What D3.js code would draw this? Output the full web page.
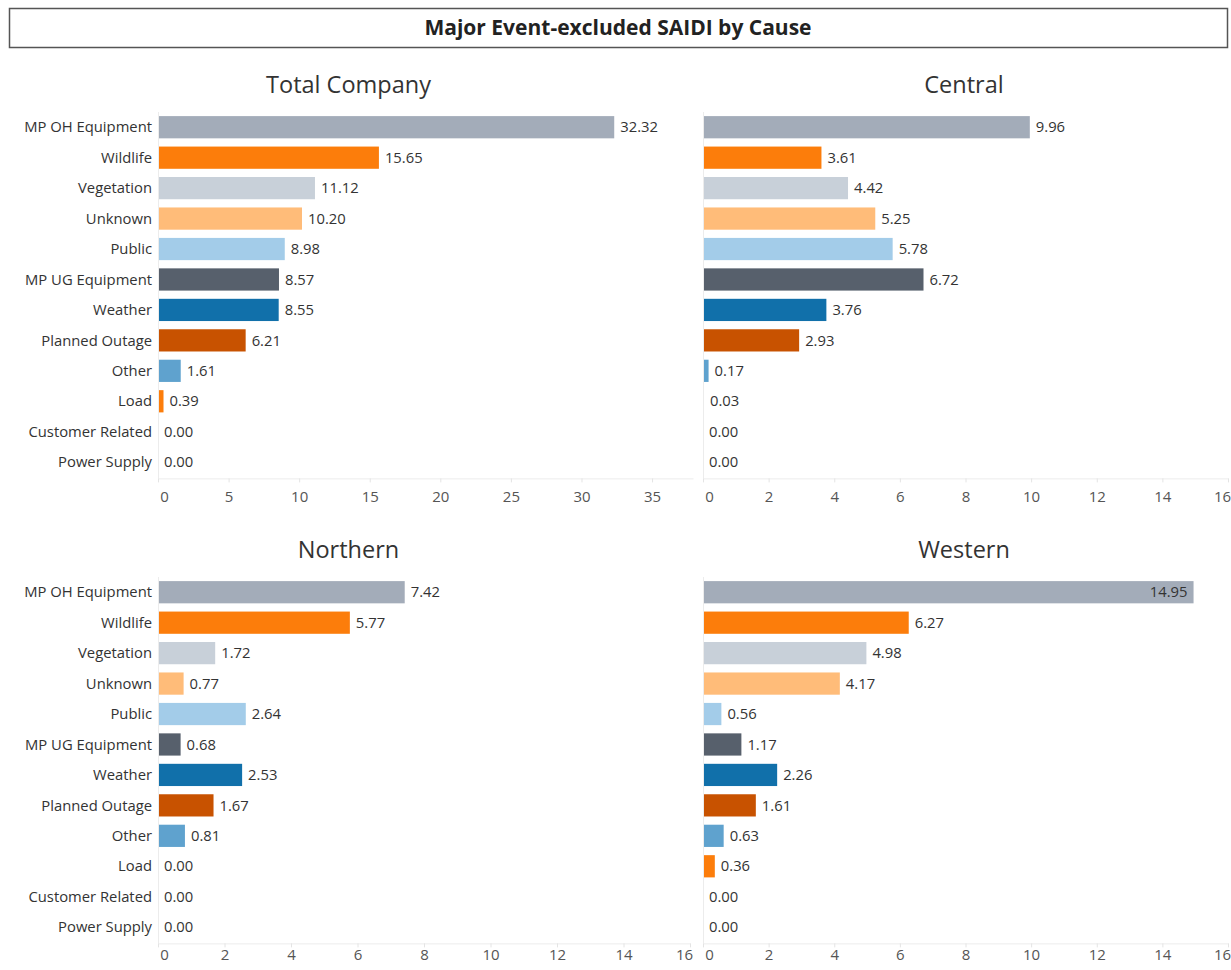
<!DOCTYPE html>
<html>
<head>
<meta charset="utf-8">
<script src="https://cdn.jsdelivr.net/npm/d3@7"></script>
<style>
  html, body { margin: 0; padding: 0; background: #fff; }
  svg { display: block; }
</style>
</head>
<body>
<svg id="chart" width="1231" height="970"></svg>
<script>
// Outage causes, in display order
const causes = ["MP OH Equipment", "Wildlife", "Vegetation", "Unknown", "Public",
  "MP UG Equipment", "Weather", "Planned Outage", "Other", "Load",
  "Customer Related", "Power Supply"];

// SAIDI minutes by cause, per region
const totalCompany = [32.32, 15.65, 11.12, 10.20, 8.98, 8.57, 8.55, 6.21, 1.61, 0.39, 0.00, 0.00];
const central      = [9.96, 3.61, 4.42, 5.25, 5.78, 6.72, 3.76, 2.93, 0.17, 0.03, 0.00, 0.00];
const northern     = [7.42, 5.77, 1.72, 0.77, 2.64, 0.68, 2.53, 1.67, 0.81, 0.00, 0.00, 0.00];
const western      = [14.95, 6.27, 4.98, 4.17, 0.56, 1.17, 2.26, 1.61, 0.63, 0.36, 0.00, 0.00];

// Axis tick values
const ticksTotal = [0, 5, 10, 15, 20, 25, 30, 35];
const ticksRegion = [0, 2, 4, 6, 8, 10, 12, 14, 16];

const causeColors = ["#a3acb9", "#fc7d0b", "#c8d0d9", "#ffbc79", "#a3cce9",
  "#57606c", "#1170aa", "#c85200", "#5fa2ce", "#fc7d0b", "#7b848f", "#a3acb9"];

const svg = d3.select("#chart");
const titleFont = "'Open Sans', 'Noto Sans', sans-serif";
const labelFont = "'Open Sans', 'Noto Sans', sans-serif";

// Header box
svg.append("rect")
  .attr("x", 9.5).attr("y", 8.5).attr("width", 1218).attr("height", 39)
  .attr("fill", "#fff").attr("stroke", "#555").attr("stroke-width", 1.5);
svg.append("text")
  .attr("x", 618).attr("y", 28).attr("dy", "0.35em")
  .attr("text-anchor", "middle")
  .style("font-family", titleFont).style("font-weight", 700).style("font-size", "21px")
  .attr("fill", "#222")
  .text("Major Event-excluded SAIDI by Cause");

const color = d3.scaleOrdinal(causes, causeColors);

const panels = [
  { name: "Total Company", values: totalCompany, ticks: ticksTotal, max: 37.9, showCats: true,
    left: 0, right: 693, x0: 158, x1: 693, top: 112, titleY: 85, tickGap: 13 },
  { name: "Central", values: central, ticks: ticksRegion, max: 16.0, showCats: false,
    left: 693, right: 1231, x0: 703, x1: 1228, top: 112, titleY: 85, tickGap: 13 },
  { name: "Northern", values: northern, ticks: ticksRegion, max: 16.0, showCats: true,
    left: 0, right: 693, x0: 158, x1: 690, top: 577, titleY: 550, tickGap: 6 },
  { name: "Western", values: western, ticks: ticksRegion, max: 16.0, showCats: false,
    left: 693, right: 1231, x0: 703, x1: 1228, top: 577, titleY: 550, tickGap: 6 }
];

const rowStep = 30.45;

panels.forEach(p => {
  const g = svg.append("g");
  const plotH = rowStep * causes.length;
  const x = d3.scaleLinear().domain([0, p.max]).range([p.x0, p.x1]);
  const y = d3.scaleBand().domain(causes).range([p.top, p.top + plotH]).paddingInner(0.27).paddingOuter(0.135);

  // Panel title
  g.append("text")
    .attr("x", (p.left + p.right) / 2 + 2).attr("y", p.titleY).attr("dy", "0.35em")
    .attr("text-anchor", "middle")
    .style("font-family", titleFont).style("font-size", "23.5px")
    .attr("fill", "#333")
    .text(p.name);

  // Faint axis frame
  const axisY = p.top + plotH + 1;
  g.append("line")
    .attr("x1", p.x0 + 0.5).attr("x2", p.x0 + 0.5)
    .attr("y1", p.top).attr("y2", axisY)
    .attr("stroke", "#ececec");

  const xAxis = d3.axisBottom(x).tickValues(p.ticks).tickSize(4).tickSizeOuter(0).tickFormat(d3.format("d"));
  const ax = g.append("g").attr("transform", `translate(0,${axisY})`).call(xAxis);
  ax.select(".domain").attr("stroke", "#ececec");
  ax.selectAll(".tick line").attr("stroke", "#e4e4e4");
  ax.selectAll(".tick text")
    .attr("y", p.tickGap)
    .style("font-family", labelFont).style("font-size", "15px")
    .attr("fill", "#555")
    .attr("dx", d => d === 0 ? 6 : (d === 16 ? -6 : 0));

  // Category labels (left column only)
  if (p.showCats) {
    g.selectAll("text.cat").data(causes).join("text")
      .attr("class", "cat")
      .attr("x", p.x0 - 6)
      .attr("y", d => y(d) + y.bandwidth() / 2).attr("dy", "0.35em")
      .attr("text-anchor", "end")
      .style("font-family", labelFont).style("font-size", "14.8px")
      .attr("fill", "#333")
      .text(d => d);
  }

  const rows = causes.map((c, i) => ({ cause: c, value: p.values[i] }));

  // Bars
  g.selectAll("rect.bar").data(rows).join("rect")
    .attr("class", "bar")
    .attr("x", x(0) + 1)
    .attr("y", d => y(d.cause))
    .attr("width", d => Math.max(0, x(d.value) - x(0) - 1))
    .attr("height", y.bandwidth())
    .attr("fill", d => color(d.cause));

  // Value labels: outside the bar, or inside when the bar reaches the edge
  const inside = d => x(d.value) + 50 > p.x1;
  g.selectAll("text.val").data(rows).join("text")
    .attr("class", "val")
    .attr("x", d => inside(d) ? x(d.value) - 6 : x(d.value) + 6)
    .attr("text-anchor", d => inside(d) ? "end" : "start")
    .attr("y", d => y(d.cause) + y.bandwidth() / 2).attr("dy", "0.35em")
    .style("font-family", labelFont).style("font-size", "14.8px")
    .attr("fill", "#333")
    .text(d => d3.format(".2f")(d.value));
});
</script>
</body>
</html>
